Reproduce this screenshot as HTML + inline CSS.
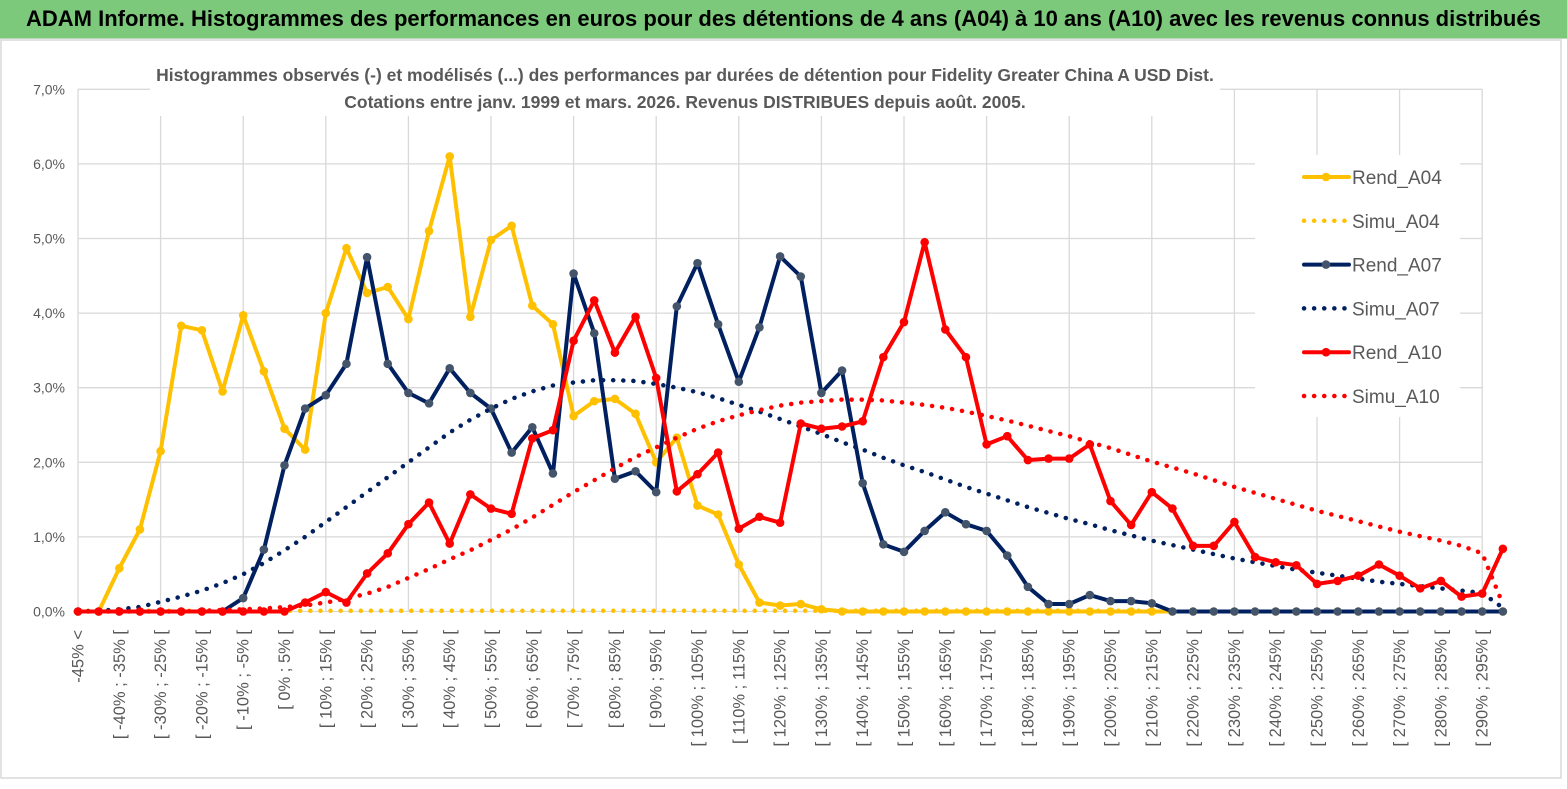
<!DOCTYPE html>
<html><head><meta charset="utf-8"><style>
html,body{margin:0;padding:0;background:#fff;}
body{width:1567px;height:789px;overflow:hidden;position:relative;font-family:"Liberation Sans",sans-serif;}
#bar{position:absolute;left:0;top:0;width:1567px;height:38px;background:#7dc97c;border-bottom:1px solid #b9d9b8;}
#bar span{position:absolute;left:26px;top:6px;font:bold 22px "Liberation Sans",sans-serif;color:#000;letter-spacing:0px;white-space:nowrap;}
svg{position:absolute;left:0;top:0;}
</style></head><body>
<div id="bar"><span>ADAM Informe. Histogrammes des performances en euros pour des détentions de 4 ans (A04) à 10 ans (A10) avec les revenus connus distribués</span></div>
<svg id="chart" width="1567" height="789"></svg>
<script>
const categories = (function(){const c=["-45% <"];for(let b=-45;b<=295;b+=5){c.push("[ "+b+"% ; "+(b+5)+"% [");}return c;})();
const rendA04 = [0,0,0.58,1.1,2.15,3.83,3.77,2.95,3.97,3.22,2.45,2.17,4.0,4.87,4.27,4.35,3.92,5.1,6.1,3.95,4.98,5.17,4.1,3.85,2.62,2.82,2.85,2.65,2.0,2.33,1.42,1.3,0.63,0.12,0.08,0.1,0.03,0,0,0,0,0,0,0,0,0,0,0,0,0,0,0,0,0,0,0,0,0,0,0,0,0,0,0,0,0,0,0,0,0];
const simuA04 = [0.01,0.01,0.01,0.01,0.01,0.01,0.01,0.01,0.01,0.01,0.01,0.01,0.01,0.01,0.01,0.01,0.01,0.01,0.01,0.01,0.01,0.01,0.01,0.01,0.01,0.01,0.01,0.01,0.01,0.01,0.01,0.01,0.01,0.01,0.01,0.01,0.01,0.01,0.01,0.01,0.01,0.01,0.01,0.01,0.01,0.01,0.01,0.01,0.01,0.01,0.01,0.01,0.01];
const rendA07 = [0,0,0,0,0,0,0,0,0.18,0.83,1.96,2.72,2.9,3.32,4.75,3.32,2.93,2.79,3.26,2.93,2.72,2.13,2.47,1.85,4.53,3.73,1.78,1.88,1.6,4.09,4.67,3.85,3.08,3.81,4.76,4.49,2.93,3.23,1.72,0.9,0.8,1.08,1.33,1.17,1.08,0.75,0.33,0.1,0.1,0.22,0.14,0.14,0.11,0,0,0,0,0,0,0,0,0,0,0,0,0,0,0,0,0];
const simuA07 = [0,0.01,0.03,0.06,0.13,0.2,0.28,0.38,0.5,0.65,0.82,1.0,1.2,1.4,1.6,1.8,2.0,2.2,2.4,2.57,2.72,2.85,2.95,3.03,3.07,3.1,3.1,3.09,3.05,3.0,2.94,2.86,2.77,2.68,2.58,2.48,2.38,2.27,2.17,2.06,1.96,1.87,1.77,1.67,1.58,1.49,1.4,1.32,1.24,1.17,1.09,1.02,0.95,0.89,0.83,0.77,0.71,0.66,0.61,0.56,0.52,0.48,0.44,0.4,0.37,0.34,0.31,0.28,0.25,0.05];
const rendA10 = [0,0,0,0,0,0,0,0,0,0,0,0.12,0.26,0.12,0.51,0.78,1.17,1.46,0.91,1.57,1.38,1.31,2.32,2.43,3.63,4.17,3.47,3.95,3.13,1.61,1.84,2.13,1.11,1.27,1.19,2.52,2.45,2.48,2.55,3.41,3.88,4.95,3.78,3.41,2.24,2.35,2.03,2.05,2.05,2.24,1.48,1.16,1.6,1.38,0.88,0.88,1.2,0.73,0.66,0.62,0.37,0.41,0.48,0.63,0.48,0.31,0.41,0.2,0.24,0.84];
const simuA10 = [0,0,0,0,0,0,0.01,0.02,0.03,0.04,0.06,0.08,0.12,0.17,0.24,0.33,0.45,0.57,0.7,0.82,0.96,1.1,1.26,1.43,1.6,1.76,1.92,2.07,2.2,2.33,2.45,2.55,2.63,2.7,2.76,2.8,2.82,2.84,2.84,2.83,2.8,2.77,2.73,2.68,2.62,2.56,2.49,2.42,2.35,2.27,2.19,2.1,2.01,1.93,1.85,1.76,1.67,1.59,1.51,1.43,1.35,1.28,1.21,1.14,1.07,1.01,0.95,0.88,0.78,0.1];
const yTicks = [0,1,2,3,4,5,6,7];
const yTickLabels = ["0,0%","1,0%","2,0%","3,0%","4,0%","5,0%","6,0%","7,0%"];

const NS="http://www.w3.org/2000/svg";
const svg=document.getElementById('chart');
const X0=78, DX=20.65, Y0=611.5, PY=74.6;
const xPos=i=>X0+i*DX;
const yPos=v=>Y0-v*PY;
function mk(tag,attrs,parent){const e=document.createElementNS(NS,tag);for(const k in attrs)e.setAttribute(k,attrs[k]);(parent||svg).appendChild(e);return e;}

const border=mk('rect',{x:1,y:40,width:1560,height:738,fill:'none',stroke:'#d9d9d9','stroke-width':1.5});



const grid=mk('g',{});


yTicks.forEach((t,k)=>{
  const l=mk('line',{x1:X0,x2:xPos(68),y1:yPos(t),y2:yPos(t),stroke:'#d9d9d9','stroke-width':1.3},grid);
  
  
  const tx=mk('text',{x:65,y:yPos(t)+5,'text-anchor':'end','font-size':14,fill:'#595959','font-family':'Liberation Sans, sans-serif'});
  tx.textContent=yTickLabels[k];
  
  
});
for(let i=0;i<=68;i+=4){
  const l=mk('line',{x1:xPos(i),x2:xPos(i),y1:yPos(7),y2:Y0,stroke:'#d9d9d9','stroke-width':1.3},grid);
  
  
}

categories.forEach((c,i)=>{
  if(i%2!==0)return;
  const x=xPos(i)+5.5;
  const t=mk('text',{x:0,y:0,transform:`translate(${x},630) rotate(-90)`,'text-anchor':'end','font-size':16.5,fill:'#595959','font-family':'Liberation Sans, sans-serif'});
  t.textContent=c;
  
  
});

const sb=mk('rect',{x:150,y:58,width:1070,height:58,fill:'#fff'});


const s1=mk('text',{x:685,y:81,'text-anchor':'middle','font-size':17.5,'font-weight':'bold',fill:'#595959','font-family':'Liberation Sans, sans-serif'});
s1.textContent="Histogrammes observés (-) et modélisés (...) des performances par durées de détention pour Fidelity Greater China A  USD Dist.";


const s2=mk('text',{x:685,y:108,'text-anchor':'middle','font-size':17.5,'font-weight':'bold',fill:'#595959','font-family':'Liberation Sans, sans-serif'});
s2.textContent="Cotations entre janv. 1999 et mars. 2026. Revenus DISTRIBUES depuis août. 2005.";



function pts(arr){return arr.map((v,i)=>xPos(i).toFixed(1)+','+yPos(v).toFixed(1)).join(' ');}
function solid(arr,color,mcolor,name){
  const g=mk('g',{});
  
  
  mk('polyline',{points:pts(arr),fill:'none',stroke:color,'stroke-width':4,'stroke-linejoin':'round'},g);
  arr.forEach((v,i)=>{
    const c=mk('circle',{cx:xPos(i),cy:yPos(v),r:4.3,fill:mcolor},g);
    
    
  });
}
function dotted(arr,color,name){
  const p=mk('polyline',{points:pts(arr),fill:'none',stroke:color,'stroke-width':4.5,'stroke-dasharray':'0.1 10','stroke-linecap':'round'});
  
  
}
solid(rendA04,'#ffc000','#ffc000','rend-a04-line');
dotted(simuA04,'#ffc000','simu-a04-line');
solid(rendA07,'#002060','#44546a','rend-a07-line');
dotted(simuA07,'#002060','simu-a07-line');
solid(rendA10,'#ff0000','#ff0000','rend-a10-line');
dotted(simuA10,'#ff0000','simu-a10-line');

const lg=mk('g',{});


mk('rect',{x:1255,y:155,width:205,height:262,fill:'#fff'},lg);
const legNames=["Rend_A04","Simu_A04","Rend_A07","Simu_A07","Rend_A10","Simu_A10"];
const legColors=['#ffc000','#ffc000','#002060','#002060','#ff0000','#ff0000'];
const legMarkers=['#ffc000',null,'#44546a',null,'#ff0000',null];
legNames.forEach((n,k)=>{
  const y=177+k*43.8;
  const e=mk('g',{},lg);
  
  
  if(legMarkers[k]){
    mk('line',{x1:1304,x2:1349,y1:y,y2:y,stroke:legColors[k],'stroke-width':4,'stroke-linecap':'round'},e);
    mk('circle',{cx:1326,cy:y,r:4.3,fill:legMarkers[k]},e);
  } else {
    mk('line',{x1:1304,x2:1349,y1:y,y2:y,stroke:legColors[k],'stroke-width':4.5,'stroke-dasharray':'0.1 10','stroke-linecap':'round'},e);
  }
  const t=mk('text',{x:1352,y:y+7,'font-size':19,fill:'#595959','font-family':'Liberation Sans, sans-serif'},e);
  t.textContent=n;
});
</script>
</body></html>
